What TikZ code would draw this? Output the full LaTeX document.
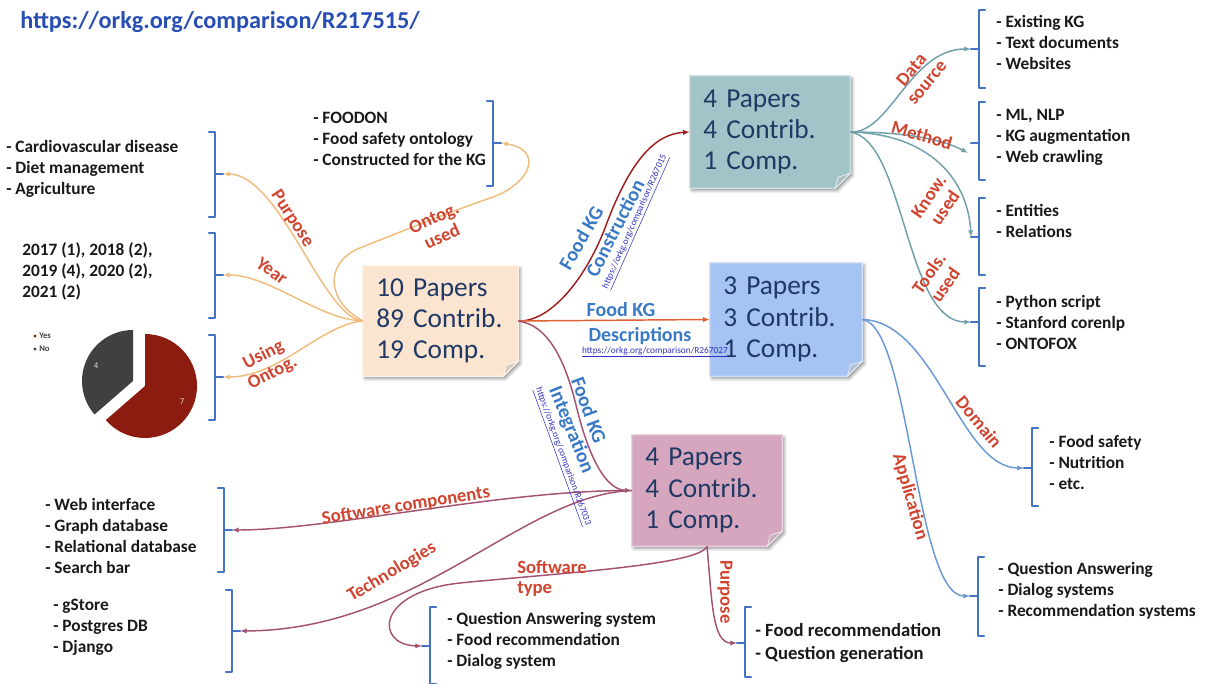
\documentclass[tikz,border=0pt]{standalone}
\usepackage{fontspec}
\setmainfont{Carlito}
\usetikzlibrary{arrows.meta,calc,backgrounds,shadows.blur}

\definecolor{listc}{RGB}{25,25,25}
\definecolor{labred}{RGB}{208,68,48}
\definecolor{labblue}{RGB}{58,122,196}
\definecolor{urlblue}{RGB}{50,50,190}
\definecolor{titleblue}{RGB}{40,78,180}
\definecolor{brkblue}{RGB}{68,114,196}
\definecolor{notec}{RGB}{31,56,100}
\definecolor{orangec}{RGB}{240,188,125}
\definecolor{tealc}{RGB}{112,160,170}
\definecolor{bluec}{RGB}{105,152,215}
\definecolor{mauvec}{RGB}{165,82,112}
\definecolor{darkredc}{RGB}{160,30,30}
\definecolor{orredc}{RGB}{225,95,50}
\definecolor{fillc}{RGB}{251,228,208}
\definecolor{fillk1}{RGB}{162,196,201}
\definecolor{fillk2}{RGB}{166,195,243}
\definecolor{fillk3}{RGB}{213,166,189}
\definecolor{piered}{RGB}{140,28,16}
\definecolor{piegray}{RGB}{64,64,64}

\tikzset{
  brk/.style={draw=brkblue, line width=1.6pt, line cap=round, line join=round},
  con/.style={line width=1.1pt, -{Latex[length=5pt,width=4pt]}},
  lst/.style={font=\fontsize{13}{15.75}\selectfont\bfseries, text=listc, align=left, anchor=west, inner sep=0pt},
  lab/.style={font=\fontsize{14}{15}\selectfont\bfseries, text=labred, inner sep=0pt},
  blab/.style={font=\fontsize{15}{16}\selectfont\bfseries, text=labblue, inner sep=0pt},
  urltext/.style={font=\fontsize{7}{8}\selectfont, text=urlblue, inner sep=0pt},
  note/.style={font=\fontsize{20.5}{23.5}\selectfont, text=notec, align=left, inner xsep=10pt, inner ysep=0pt},
}

% "]" bracket with its tick pointing right: x, top, bottom, tick y, tick name
\newcommand\bracketR[5]{%
  \draw[brk] (#1-6,#2) -- (#1,#2) -- (#1,#3) -- (#1-6,#3);
  \draw[brk] (#1,#4) -- (#1+8,#4) coordinate (#5);}
% "[" bracket with its tick pointing left
\newcommand\bracketL[5]{%
  \draw[brk] (#1+6,#2) -- (#1,#2) -- (#1,#3) -- (#1+6,#3);
  \draw[brk] (#1,#4) -- (#1-8,#4) coordinate (#5);}
% sticky note behind a node, with a folded bottom-right corner
\newcommand\notebox[2]{%
  \begin{scope}[on background layer]
    \fill[#2, draw=#2!50!white, line width=0.8pt,
      blur shadow={shadow xshift=1.6pt, shadow yshift=-1.8pt, shadow blur radius=2.2pt, shadow opacity=40}]
      (#1.north west) -- (#1.north east) -- ($(#1.south east)+(0,-15)$)
      -- ($(#1.south east)+(-15,0)$) -- (#1.south west) -- cycle;
    \fill[#2!75!black!60!white, draw=white!70!#2, line width=0.6pt]
      ($(#1.south east)+(0,-15)$) -- ($(#1.south east)+(-15,0)$)
      -- ($(#1.south east)+(-12,-11)$) -- cycle;
  \end{scope}}

\begin{document}
\begin{tikzpicture}[x=0.75pt,y=-0.75pt]
\useasboundingbox (0,0) rectangle (1206,684);

% title
\node[anchor=west, inner sep=0pt, font=\fontsize{18.2}{20}\selectfont\bfseries, text=titleblue]
  (title) at (20,22) {https://orkg.org/comparison/R217515/};

% the four notes
\node[note, minimum width=116.25pt, minimum height=82.5pt, text width=96.25pt] (c) at (440.5,321)
  {10 Papers\\89 Contrib.\\19 Comp.};
\node[note, minimum width=120pt, minimum height=84pt, text width=100pt] (k1) at (770,132)
  {4 Papers\\4 Contrib.\\1 Comp.};
\node[note, minimum width=114pt, minimum height=84.75pt, text width=94pt] (k2) at (786,319.5)
  {3 Papers\\3 Contrib.\\1 Comp.};
\node[note, minimum width=112.5pt, minimum height=83.25pt, text width=92.5pt] (k3) at (707,490.5)
  {4 Papers\\4 Contrib.\\1 Comp.};
\notebox{c}{fillc}
\notebox{k1}{fillk1}
\notebox{k2}{fillk2}
\notebox{k3}{fillk3}

% brackets
\bracketR{215}{132}{217}{174}{tPurp}
\bracketR{215}{233}{318}{275}{tYear}
\bracketR{215}{335}{420}{377}{tUse}
\bracketR{493}{101}{186}{143}{tOnt}
\bracketR{224}{488}{572}{530}{tSWc}
\bracketR{232}{590}{672}{631}{tTech}
\bracketL{979}{10}{88}{49}{tData}
\bracketL{979}{102}{180}{143}{tMeth}
\bracketL{979}{198}{275}{237}{tKnow}
\bracketL{979}{288}{366}{322}{tTools}
\bracketL{1032}{428}{506}{468}{tDom}
\bracketL{978}{557}{636}{596}{tApp}
\bracketL{430}{607}{684}{646}{tSWt}
\bracketL{745}{607}{677}{643}{tPurB}
\coordinate (mEnd) at (968,153);

% lists
\node[lst] (lPurp) at (6,169) {- Cardiovascular disease\\- Diet management\\- Agriculture};
\node[lst] (lYear) at (22,271) {2017 (1), 2018 (2),\\2019 (4), 2020 (2),\\2021 (2)};
\node[lst] (lOnt) at (313,139) {- FOODON\\- Food safety ontology\\- Constructed for the KG};
\node[lst] (lData) at (996,42) {- Existing KG\\- Text documents\\- Websites};
\node[lst] (lMeth) at (996,137) {- ML, NLP\\- KG augmentation\\- Web crawling};
\node[lst] (lKnow) at (996,221) {- Entities\\- Relations};
\node[lst] (lTools) at (996,322) {- Python script\\- Stanford corenlp\\- ONTOFOX};
\node[lst] (lDom) at (1049,462) {- Food safety\\- Nutrition\\- etc.};
\node[lst] (lApp) at (998,591) {- Question Answering\\- Dialog systems\\- Recommendation systems};
\node[lst] (lSWc) at (45,536) {- Web interface\\- Graph database\\- Relational database\\- Search bar};
\node[lst] (lTech) at (53,627) {- gStore\\- Postgres DB\\- Django};
\node[lst] (lSWt) at (447,641) {- Question Answering system\\- Food recommendation\\- Dialog system};
\node[lst, font=\fontsize{14}{17.25}\selectfont\bfseries] (lPurB) at (755,643.5) {- Food recommendation\\- Question generation};

% pie chart: ontology use
\begin{scope}[shift={(145,386)}, y=0.75pt]
  \fill[piered] (0,0) -- (90:52) arc[start angle=90, end angle=-139, radius=52] -- cycle;
  \fill[piegray] (-12,5) -- ++(90:51) arc[start angle=90, end angle=221, radius=51] -- cycle;
  \node[font=\fontsize{6.5}{7}\selectfont, text=white!85!black] (p4) at (-49,20) {4};
  \node[font=\fontsize{6.5}{7}\selectfont, text=white!85!black] (p7) at (37,-16) {7};
\end{scope}
\fill[piered] (35,336) circle (1.6);
\fill[piegray] (35,349) circle (1.6);
\node[anchor=west, inner sep=0pt, font=\fontsize{6.5}{7}\selectfont\bfseries, text=black!75] (yes) at (39,336) {Yes};
\node[anchor=west, inner sep=0pt, font=\fontsize{6.5}{7}\selectfont\bfseries, text=black!75] (no) at (39,349) {No};

% connectors from the central note
\draw[con, draw=orangec] (c.west) .. controls (323,318) and (280,174) .. (tPurp);
\draw[con, draw=orangec] (c.west) .. controls (320,320) and (270,275) .. (tYear);
\draw[con, draw=orangec] (c.west) .. controls (320,325) and (280,377) .. (tUse);
\draw[con, draw=orangec] (c.west) .. controls (325,300) and (325,262) .. (360,248)
  .. controls (400,232) and (450,212) .. (490,198)
  .. controls (530,185) and (545,150) .. (tOnt);
\draw[con, draw=darkredc] (c.east) .. controls (550,322) and (585,280) .. (605,228)
  .. controls (630,160) and (655,134) .. (k1.west);
\draw[con, draw=orredc] (c.east) -- (k2.west);
\draw[con, draw=mauvec] (c.east) .. controls (548,325) and (565,360) .. (576,405)
  .. controls (588,455) and (605,490) .. (k3.west);

% connectors from the construction note
\draw[con, draw=tealc] (k1.east) .. controls (890,134) and (910,49) .. (tData);
\draw[con, draw=tealc] (k1.east) .. controls (900,132) and (940,138) .. (mEnd);
\draw[con, draw=tealc] (k1.east) .. controls (930,134) and (968,180) .. (tKnow);
\draw[con, draw=tealc] (k1.east) .. controls (905,140) and (905,322) .. (tTools);

% connectors from the descriptions note
\draw[con, draw=bluec] (k2.east) .. controls (935,321) and (960,468) .. (tDom);
\draw[con, draw=bluec] (k2.east) .. controls (910,325) and (915,596) .. (tApp);

% connectors from the integration note
\draw[con, draw=mauvec] (k3.west) .. controls (500,490) and (330,530) .. (tSWc);
\draw[con, draw=mauvec] (k3.west) .. controls (520,495) and (420,630) .. (tTech);
\draw[con, draw=mauvec] (k3.south) .. controls (700,565) and (560,573) .. (460,583)
  .. controls (375,592) and (375,645) .. (tSWt);
\draw[con, draw=mauvec] (k3.south) .. controls (712,600) and (712,643) .. (tPurB);

% branch labels
\node[lab, rotate=-57] (aPurp) at (292,219) {Purpose};
\node[lab, rotate=-36] (aYear) at (272,271) {Year};
\node[lab, rotate=27, align=center] (aUse) at (268,364) {Using\\Ontog.};
\node[lab, rotate=24, align=center] (aOnt) at (438,227) {Ontog.\\used};
\node[lab, rotate=50, align=center] (aData) at (919,76) {Data\\source};
\node[lab, rotate=-16] (aMeth) at (922,135) {Method};
\node[lab, rotate=55, align=center] (aKnow) at (937,202) {Know.\\used};
\node[lab, rotate=55, align=center] (aTools) at (937,279) {Tools.\\used};
\node[lab, rotate=-50] (aDom) at (979,422) {Domain};
\node[lab, rotate=-74] (aApp) at (910,497) {Application};
\node[lab, rotate=9] (aSWc) at (406,506) {Software components};
\node[lab, rotate=31] (aTech) at (392,572) {Technologies};
\node[lab, align=left, anchor=west] (aSWt) at (517,578) {Software\\type};
\node[lab, rotate=-90] (aPurB) at (725,592) {Purpose};

% paper labels with comparison links
\node[blab, rotate=60] (fC1) at (581,238) {Food KG};
\node[blab, rotate=63] (fC2) at (615,228) {Construction};
\node[urltext, rotate=66] (uC) at (636,222) {\underline{https://orkg.org/comparison/R267015}};
\node[blab] (fD1) at (621,310) {Food KG};
\node[blab] (fD2) at (640,336) {Descriptions};
\node[urltext] (uD) at (655,352) {\underline{https://orkg.org/comparison/R267027}};
\node[blab, rotate=-70] (fI1) at (589,410) {Food KG};
\node[blab, rotate=-68] (fI2) at (571,430) {Integration};
\node[urltext, rotate=-70] (uI) at (562,457) {\underline{https://orkg.org/comparison/R267033}};
\end{tikzpicture}
\end{document}
